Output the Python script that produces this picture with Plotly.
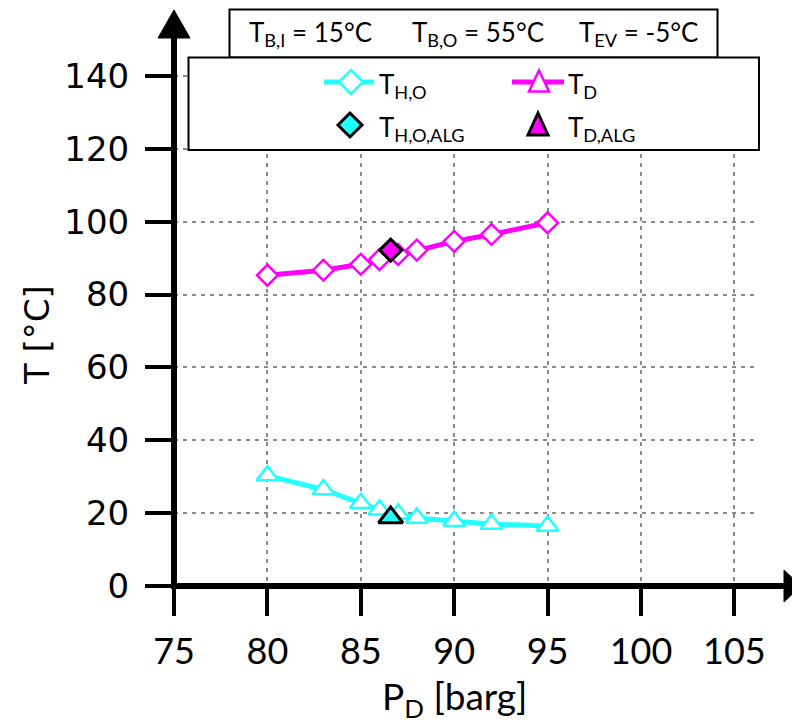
import plotly.graph_objects as go

# ---------------- data ----------------
p_d = [80, 83, 85, 86, 87, 88, 90, 92, 95]
t_d = [85.3, 86.7, 88.3, 89.6, 91.0, 92.2, 94.6, 96.5, 99.7]      # magenta, diamonds
t_ho = [30.3, 26.5, 22.7, 20.9, 19.8, 18.7, 17.8, 17.0, 16.5]     # cyan, triangles
p_alg = [86.6]
t_d_alg = [92.2]
t_ho_alg = [18.8]

x_ticks = [75, 80, 85, 90, 95, 100, 105]
y_ticks = [0, 20, 40, 60, 80, 100, 120, 140]

box_texts = ["T<sub>B,I</sub> = 15°C", "T<sub>B,O</sub> = 55°C", "T<sub>EV</sub> = -5°C"]
legend_labels = ["T<sub>H,O</sub>", "T<sub>D</sub>", "T<sub>H,O,ALG</sub>", "T<sub>D,ALG</sub>"]

x_title = "P<sub>D</sub> [barg]"
y_title = "T [°C]"

MAG = "#FF00FF"
CYA = "#22FFFF"

# ---------------- geometry helpers (screen pixels, page has 8px body margin) ----------------
OFF = 8
W, H = 800 - OFF, 727 - OFF
SX0, SX1, SY_TOP, SY_AX = 174, 758, 10, 586   # screen coords of plot area
L = SX0 - OFF
T = SY_TOP - OFF
R = W - (SX1 - OFF)
B = H - (SY_AX - OFF)
PW = W - L - R
PH = H - T - B
PX_PER_X = 18.68
PX_PER_Y = 3.643
X0 = 75
XMAX = X0 + PW / PX_PER_X
YMAX = PH / PX_PER_Y


def px(xs):
    return (xs - SX0) / PW


def py(ys):
    return (SY_AX - ys) / PH


CAL = "Lato, Carlito, 'Open Sans', sans-serif"
VER = "'DejaVu Sans', Verdana, sans-serif"

fig = go.Figure()

fig.add_trace(go.Scatter(
    x=p_d, y=t_ho, mode="lines+markers",
    line=dict(color=CYA, width=5),
    marker=dict(symbol="triangle-up", size=19, color="white",
                line=dict(color=CYA, width=2.5)),
    showlegend=False, cliponaxis=False, hoverinfo="skip"))
fig.add_trace(go.Scatter(
    x=p_d, y=t_d, mode="lines+markers",
    line=dict(color=MAG, width=5),
    marker=dict(symbol="diamond", size=16, color="white",
                line=dict(color=MAG, width=2.5)),
    showlegend=False, cliponaxis=False, hoverinfo="skip"))
fig.add_trace(go.Scatter(
    x=p_alg, y=t_d_alg, mode="markers",
    marker=dict(symbol="diamond", size=17, color=MAG,
                line=dict(color="black", width=3)),
    showlegend=False, cliponaxis=False, hoverinfo="skip"))
fig.add_trace(go.Scatter(
    x=p_alg, y=t_ho_alg, mode="markers",
    marker=dict(symbol="triangle-up", size=21, color=CYA,
                line=dict(color="black", width=3)),
    showlegend=False, cliponaxis=False, hoverinfo="skip"))


def rect(x0, y0, x1, y1, **kw):
    return dict(type="rect", xref="paper", yref="paper",
                x0=px(x0), x1=px(x1), y0=py(y1), y1=py(y0), layer="above", **kw)


def line(x0, y0, x1, y1, color, width):
    return dict(type="line", xref="paper", yref="paper",
                x0=px(x0), x1=px(x1), y0=py(y0), y1=py(y1),
                line=dict(color=color, width=width), layer="above")


def poly(pts, fill, lc, lw):
    path = "M " + " L ".join(f"{px(a)},{py(b)}" for a, b in pts) + " Z"
    return dict(type="path", xref="paper", yref="paper", path=path,
                fillcolor=fill, line=dict(color=lc, width=lw), layer="above")


def diamond(cx, cy, r, fill, lc, lw):
    return poly([(cx - r, cy), (cx, cy - r), (cx + r, cy), (cx, cy + r)], fill, lc, lw)


def tri(cx, cy, w, h, fill, lc, lw):
    return poly([(cx - w / 2, cy + h / 2), (cx + w / 2, cy + h / 2), (cx, cy - h / 2)], fill, lc, lw)


shapes = []
# white cover above legend (gridlines do not reach the top strip)
shapes.append(rect(178, 0, 800, 57.5, fillcolor="white", line=dict(width=0)))
# boxes
shapes.append(rect(229.5, 9.5, 717.5, 57.5, fillcolor="white", line=dict(color="black", width=2)))
shapes.append(rect(188.5, 57.5, 759, 150, fillcolor="white", line=dict(color="black", width=2)))

# legend samples
row1, row2 = 82, 125
shapes.append(line(324, row1, 374, row1, CYA, 5))
shapes.append(diamond(351, row1, 12, "white", CYA, 2.5))
shapes.append(line(512, row1, 564, row1, MAG, 5))
shapes.append(tri(539, row1 - 1, 20, 21, "white", MAG, 2.5))
shapes.append(diamond(350, row2, 12, CYA, "black", 3))
shapes.append(tri(538, row2 - 1, 20, 22, MAG, "black", 3))

# axis lines
shapes.append(line(171, 586, 786, 586, "black", 6))
shapes.append(line(174, 589, 174, 37, "black", 6))
# arrow heads
shapes.append(poly([(158, 38), (190, 38), (174, 10)], "black", "black", 1))
shapes.append(poly([(784, 570), (784, 602), (801, 586)], "black", "black", 1))

annotations = []
for txt, cx in zip(box_texts, [310, 478, 638]):
    annotations.append(dict(text=txt, xref="paper", yref="paper", x=px(cx), y=py(33),
                            xanchor="center", yanchor="middle", showarrow=False,
                            font=dict(family=CAL, size=26, color="black")))
for txt, lx, ly in zip(legend_labels, [377, 566, 377, 566], [row1, row1, row2, row2]):
    annotations.append(dict(text=txt, xref="paper", yref="paper", x=px(lx), y=py(ly + 3),
                            xanchor="left", yanchor="middle", showarrow=False,
                            font=dict(family=CAL, size=26, color="black")))
annotations.append(dict(text=x_title, xref="paper", yref="paper", x=px(454), y=py(698),
                        xanchor="center", yanchor="middle", showarrow=False,
                        font=dict(family=CAL, size=37, color="black")))
annotations.append(dict(text=y_title, xref="paper", yref="paper", x=px(37), y=py(335),
                        xanchor="center", yanchor="middle", showarrow=False, textangle=-90,
                        font=dict(family=VER, size=34, color="black")))

fig.update_layout(
    width=W, height=H,
    margin=dict(l=L, r=R, t=T, b=B, pad=0),
    paper_bgcolor="white", plot_bgcolor="white",
    shapes=shapes, annotations=annotations,
    xaxis=dict(range=[X0, XMAX], tickvals=x_ticks, ticktext=[str(v) for v in x_ticks],
               showgrid=True, gridcolor="#8a8a8a", gridwidth=2, griddash="4px,5px",
               zeroline=False, showline=False,
               ticks="outside", ticklen=29, tickwidth=4, tickcolor="black",
               ticklabelstandoff=5,
               tickfont=dict(family=CAL, size=36, color="black")),
    yaxis=dict(range=[0, YMAX], tickvals=y_ticks, ticktext=[str(v) for v in y_ticks],
               showgrid=True, gridcolor="#8a8a8a", gridwidth=2, griddash="4px,5px",
               zeroline=False, showline=False,
               ticks="outside", ticklen=28, tickwidth=4, tickcolor="black",
               ticklabelstandoff=9,
               tickfont=dict(family=VER, size=34, color="black")),
)

fig.write_html("out.html")
